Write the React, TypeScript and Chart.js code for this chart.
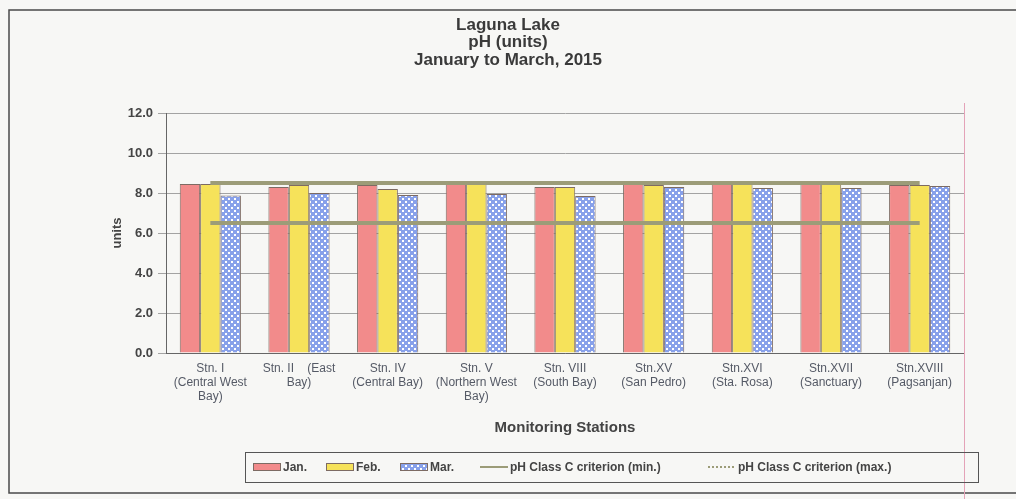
import React, { useEffect, useRef } from "react";
import { Chart, registerables } from "chart.js";

Chart.register(...registerables);

// ---------- data ----------
const stations: string[][] = [
  ["Stn. I", "(Central West", "Bay)"],
  ["Stn. II    (East", "Bay)"],
  ["Stn. IV", "(Central Bay)"],
  ["Stn. V", "(Northern West", "Bay)"],
  ["Stn. VIII", "(South Bay)"],
  ["Stn.XV", "(San Pedro)"],
  ["Stn.XVI", "(Sta. Rosa)"],
  ["Stn.XVII", "(Sanctuary)"],
  ["Stn.XVIII", "(Pagsanjan)"],
];
const janPH = [8.45, 8.3, 8.4, 8.6, 8.3, 8.55, 8.6, 8.45, 8.4];
const febPH = [8.45, 8.4, 8.2, 8.5, 8.3, 8.4, 8.6, 8.45, 8.4];
const marPH = [7.87, 8.0, 7.9, 7.95, 7.85, 8.3, 8.25, 8.25, 8.35];
const criterionMin = [6.5, 6.5, 6.5, 6.5, 6.5, 6.5, 6.5, 6.5, 6.5];
const criterionMax = [8.5, 8.5, 8.5, 8.5, 8.5, 8.5, 8.5, 8.5, 8.5];
const seriesLabels = ["Jan.", "Feb.", "Mar.", "pH Class C criterion (min.)", "pH Class C criterion (max.)"];
const titleLines = ["Laguna Lake", "pH (units)", "January to March, 2015"];
const xAxisTitle = "Monitoring Stations";
const yAxisTitle = "units";
const yMin = 0;
const yMax = 12;
const yStep = 2;

const FAMILY = "'Liberation Sans', Arial, Helvetica, sans-serif";
const JAN_COLOR = "#f28b8b";
const FEB_COLOR = "#f6e25a";
const BAR_BORDER = "#7d6b63";
const LINE_COLOR = "#9c9c78";

function makeDotPattern(): CanvasPattern | string {
  const pc = document.createElement("canvas");
  pc.width = 6;
  pc.height = 6;
  const g = pc.getContext("2d");
  if (!g) return "#9fb3ee";
  g.fillStyle = "#88a1ea";
  g.fillRect(0, 0, 6, 6);
  g.fillStyle = "#ffffff";
  g.fillRect(0, 0, 2, 2);
  g.fillRect(3, 3, 2, 2);
  const p = g.createPattern(pc, "repeat");
  return p || "#9fb3ee";
}

export default function App() {
  const ref = useRef<HTMLCanvasElement | null>(null);

  useEffect(() => {
    const canvas = ref.current;
    if (!canvas) return;
    const marFill = makeDotPattern();

    const decor = {
      id: "decor",
      beforeDraw(chart: any) {
        const ctx = chart.ctx as CanvasRenderingContext2D;
        ctx.save();
        ctx.fillStyle = "#f7f7f5";
        ctx.fillRect(0, 0, chart.width, chart.height);
        ctx.restore();
      },
      afterDraw(chart: any) {
        const ctx = chart.ctx as CanvasRenderingContext2D;
        const area = chart.chartArea;
        ctx.save();
        // outer frame
        ctx.strokeStyle = "#4a4a4a";
        ctx.lineWidth = 1.5;
        ctx.strokeRect(9, 10, chart.width + 20, 483);

        // title
        ctx.fillStyle = "#3a3a3a";
        ctx.textAlign = "center";
        ctx.textBaseline = "middle";
        ctx.font = `bold 17px ${FAMILY}`;
        const ty = [25, 42, 60];
        titleLines.forEach((t, i) => ctx.fillText(t, 508, ty[i]));

        // pink right border line
        ctx.strokeStyle = "#e4a3b8";
        ctx.lineWidth = 1;
        ctx.beginPath();
        ctx.moveTo(area.right + 0.5, area.top - 10);
        ctx.lineTo(area.right + 0.5, chart.height);
        ctx.stroke();

        // legend box
        ctx.strokeStyle = "#555";
        ctx.lineWidth = 1;
        ctx.strokeRect(245.5, 452.5, 733, 30);
        const ly = 467;
        const xs = [253, 326, 400, 480, 708];
        ctx.font = `bold 12px ${FAMILY}`;
        ctx.textAlign = "left";
        ctx.fillStyle = "#444";
        seriesLabels.forEach((lab, i) => {
          const x = xs[i];
          if (i < 3) {
            ctx.fillStyle = i === 0 ? JAN_COLOR : i === 1 ? FEB_COLOR : (marFill as any);
            ctx.fillRect(x, ly - 4, 28, 8);
            ctx.strokeStyle = BAR_BORDER;
            ctx.strokeRect(x + 0.5, ly - 3.5, 27, 7);
          } else {
            ctx.strokeStyle = LINE_COLOR;
            ctx.lineWidth = 2;
            ctx.setLineDash(i === 4 ? [2, 2] : []);
            ctx.beginPath();
            ctx.moveTo(x, ly);
            ctx.lineTo(x + 28, ly);
            ctx.stroke();
            ctx.setLineDash([]);
            ctx.lineWidth = 1;
          }
          ctx.fillStyle = "#444";
          ctx.fillText(lab, x + 30, ly + 1);
        });
        ctx.restore();
      },
    };

    const chart = new Chart(canvas, {
      type: "bar",
      data: {
        labels: stations,
        datasets: [
          {
            type: "line",
            label: seriesLabels[3],
            data: criterionMin,
            borderColor: LINE_COLOR,
            borderWidth: 4,
            pointRadius: 0,
            fill: false,
            order: 0,
          } as any,
          {
            type: "line",
            label: seriesLabels[4],
            data: criterionMax,
            borderColor: LINE_COLOR,
            borderWidth: 4,
            pointRadius: 0,
            fill: false,
            order: 0,
          } as any,
          {
            label: seriesLabels[0],
            data: janPH,
            backgroundColor: JAN_COLOR,
            borderColor: BAR_BORDER,
            borderWidth: 1,
            order: 1,
          },
          {
            label: seriesLabels[1],
            data: febPH,
            backgroundColor: FEB_COLOR,
            borderColor: BAR_BORDER,
            borderWidth: 1,
            order: 1,
          },
          {
            label: seriesLabels[2],
            data: marPH,
            backgroundColor: marFill as any,
            borderColor: BAR_BORDER,
            borderWidth: 1,
            order: 1,
          },
        ],
      },
      options: {
        responsive: false,
        animation: false,
        datasets: {
          bar: { categoryPercentage: 0.69, barPercentage: 1 },
        },
        layout: { padding: { left: 110, top: 113, right: 52, bottom: 62 } },
        plugins: {
          legend: { display: false },
          title: { display: false },
          tooltip: { enabled: false },
        },
        scales: {
          x: {
            offset: true,
            grid: { display: false, drawTicks: false },
            border: { display: true, color: "#666", width: 1 },
            ticks: {
              color: "#555a66",
              font: { size: 12, family: FAMILY },
              padding: 8,
              maxRotation: 0,
              autoSkip: false,
            },
            title: {
              display: true,
              text: xAxisTitle,
              color: "#444",
              font: { size: 15, weight: "bold", family: FAMILY },
              padding: 0,
            },
            afterFit: (s: any) => {
              s.height = 84;
            },
          },
          y: {
            min: yMin,
            max: yMax,
            ticks: {
              stepSize: yStep,
              callback: (v: any) => Number(v).toFixed(1),
              color: "#444",
              font: { size: 13, weight: "bold", family: FAMILY },
              padding: 5,
            },
            grid: { color: "#a3a3a3", tickLength: 8, lineWidth: 1 },
            border: { color: "#666", width: 1 },
            title: {
              display: true,
              text: yAxisTitle,
              color: "#444",
              font: { size: 13, weight: "bold", family: FAMILY },
              padding: 0,
            },
            afterFit: (s: any) => {
              s.width = 56;
            },
          },
        },
      } as any,
      plugins: [decor],
    });

    return () => chart.destroy();
  }, []);

  return (
    <div style={{ position: "absolute", left: 0, top: 0, width: 1016, height: 499 }}>
      <canvas ref={ref} width={1016} height={499} style={{ display: "block" }} />
    </div>
  );
}
